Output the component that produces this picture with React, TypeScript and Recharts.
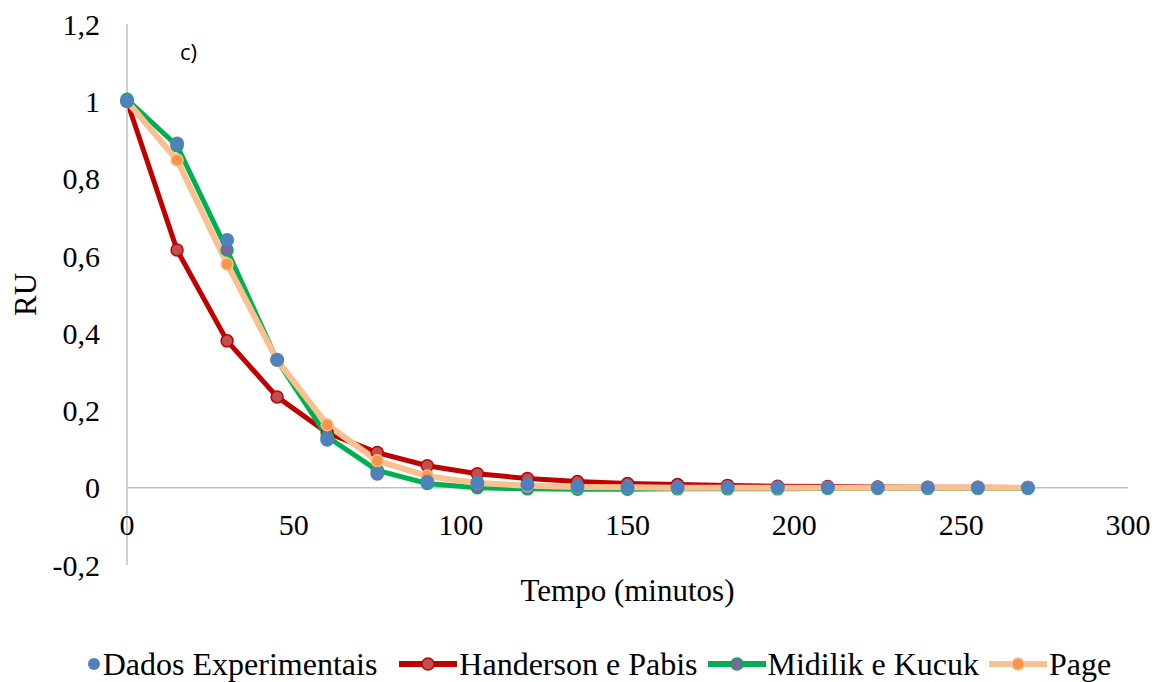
import React from "react";
import {
  ComposedChart, Line, Scatter, XAxis, YAxis, ReferenceLine,
} from "recharts";

document.body.style.margin = "0";

const tempo = [0, 15, 30, 45, 60, 75, 90, 105, 120, 135, 150, 165, 180, 195, 210, 225, 240, 255, 270];
const experimental = [1.0, 0.891, 0.641, 0.331, 0.124, 0.036, 0.015, 0.013, 0.008, 0.003, 0.002, 0.001, 0.001, 0.001, 0.0005, 0.0003, 0.0002, 0.0001, 0.0001];
const handerson = [1.0, 0.615, 0.38, 0.235, 0.142, 0.091, 0.057, 0.036, 0.024, 0.016, 0.011, 0.008, 0.006, 0.004, 0.003, 0.002, 0.0015, 0.001, 0.0007];
const midilik = [1.005, 0.885, 0.615, 0.33, 0.132, 0.045, 0.011, 0.0, -0.003, -0.004, -0.004, -0.003, -0.003, -0.003, -0.002, -0.002, -0.002, -0.002, -0.002];
const page = [1.0, 0.848, 0.579, 0.33, 0.163, 0.07, 0.03, 0.012, 0.005, 0.002, 0.001, 0, 0, 0, 0, 0, 0, 0, 0];

const xTicks = [0, 50, 100, 150, 200, 250, 300];
const yTicks = [-0.2, 0, 0.2, 0.4, 0.6, 0.8, 1, 1.2];

const data = tempo.map((t, i) => ({
  t,
  exp: experimental[i],
  hp: handerson[i],
  mk: midilik[i],
  page: page[i],
}));

const FONT = "Liberation Serif, Tinos, Times New Roman, Times, serif";
const AXIS_GRAY = "#BFBFBF";
const TICK_SIZE = 30;
const TITLE_SIZE = 31;

// plot geometry (used to put x tick labels under the zero line)
const TOP = 24;
const PLOT_H = 541;
const ZERO_Y = TOP + PLOT_H * (1.2 / 1.4);

const fmtY = (v: number) => String(Number(v.toFixed(1))).replace(".", ",");

function XTick(props: any) {
  const { x, payload } = props;
  return (
    <text x={x} y={ZERO_Y + 47} textAnchor="middle" style={{ fontFamily: FONT }} fontSize={TICK_SIZE} fill="#000">
      {payload.value}
    </text>
  );
}

function LegendLine({ color, dot }: { color: string; dot: string }) {
  return (
    <svg width={58} height={20} style={{ display: "block" }}>
      <line x1={0} y1={10} x2={58} y2={10} stroke={color} strokeWidth={6} />
      <circle cx={29} cy={10} r={6} fill={dot} stroke={color} strokeWidth={1.5} />
    </svg>
  );
}

export default function App() {
  return (
    <div style={{ position: "relative", width: 1168, height: 682, background: "#fff", fontFamily: FONT }}>
      <ComposedChart
        width={1168}
        height={682}
        data={data}
        margin={{ top: TOP, right: 40, left: 0, bottom: 77 }}
        style={{ fontFamily: FONT }}
      >
        <XAxis
          dataKey="t"
          type="number"
          domain={[0, 300]}
          ticks={xTicks}
          axisLine={false}
          tickLine={false}
          tick={<XTick />}
          height={40}
          label={{
            value: "Tempo (minutos)",
            position: "insideBottom",
            offset: 4,
            style: { fontFamily: FONT, fontSize: TITLE_SIZE, fill: "#000" },
          }}
        />
        <YAxis
          type="number"
          domain={[-0.2, 1.2]}
          ticks={yTicks}
          tickFormatter={fmtY}
          width={127}
          axisLine={{ stroke: AXIS_GRAY, strokeWidth: 1.5 }}
          tickLine={false}
          tickSize={0}
          tickMargin={27}
          tick={{ fontSize: TICK_SIZE, fill: "#000", style: { fontFamily: FONT } }}
          label={{
            value: "RU",
            angle: -90,
            position: "insideLeft",
            offset: 25,
            style: { fontFamily: FONT, fontSize: TITLE_SIZE, fill: "#000", textAnchor: "middle" },
          }}
        />
        <ReferenceLine y={0} stroke={AXIS_GRAY} strokeWidth={1.5} />
        <Line
          dataKey="hp"
          stroke="#C00000"
          strokeWidth={5}
          dot={{ r: 6, fill: "#C0504D", stroke: "#C00000", strokeWidth: 1.5 }}
          isAnimationActive={false}
        />
        <Line
          dataKey="mk"
          stroke="#00B050"
          strokeWidth={5}
          dot={{ r: 6, fill: "#8064A2", stroke: "#00B050", strokeWidth: 1.5 }}
          isAnimationActive={false}
        />
        <Line
          dataKey="page"
          stroke="#FAC090"
          strokeWidth={6}
          dot={{ r: 6, fill: "#F79646", stroke: "#FAC090", strokeWidth: 1.5 }}
          isAnimationActive={false}
        />
        <Scatter
          dataKey="exp"
          fill="#4F81BD"
          shape={(p: any) => <circle cx={p.cx} cy={p.cy} r={7} fill="#4F81BD" />}
          isAnimationActive={false}
        />
      </ComposedChart>

      <div
        style={{
          position: "absolute",
          left: 180,
          top: 36,
          fontFamily: "'Open Sans', 'Liberation Sans', sans-serif",
          fontSize: 22,
          color: "#000",
        }}
      >
        c)
      </div>

      <div
        style={{
          position: "absolute",
          left: 15,
          top: 646,
          width: 1168,
          display: "flex",
          justifyContent: "center",
          alignItems: "center",
          fontFamily: FONT,
          fontSize: 32,
          color: "#000",
          lineHeight: "36px",
        }}
      >
        <svg width={14} height={20} style={{ display: "block", marginRight: 2 }}>
          <circle cx={7} cy={10} r={6} fill="#4F81BD" />
        </svg>
        <span style={{ marginRight: 22 }}>Dados Experimentais</span>
        <LegendLine color="#C00000" dot="#C0504D" />
        <span style={{ marginLeft: 2, marginRight: 10 }}>Handerson e Pabis</span>
        <LegendLine color="#00B050" dot="#8064A2" />
        <span style={{ marginLeft: 2, marginRight: 10 }}>Midilik e Kucuk</span>
        <LegendLine color="#FAC090" dot="#F79646" />
        <span style={{ marginLeft: 2 }}>Page</span>
      </div>
    </div>
  );
}
